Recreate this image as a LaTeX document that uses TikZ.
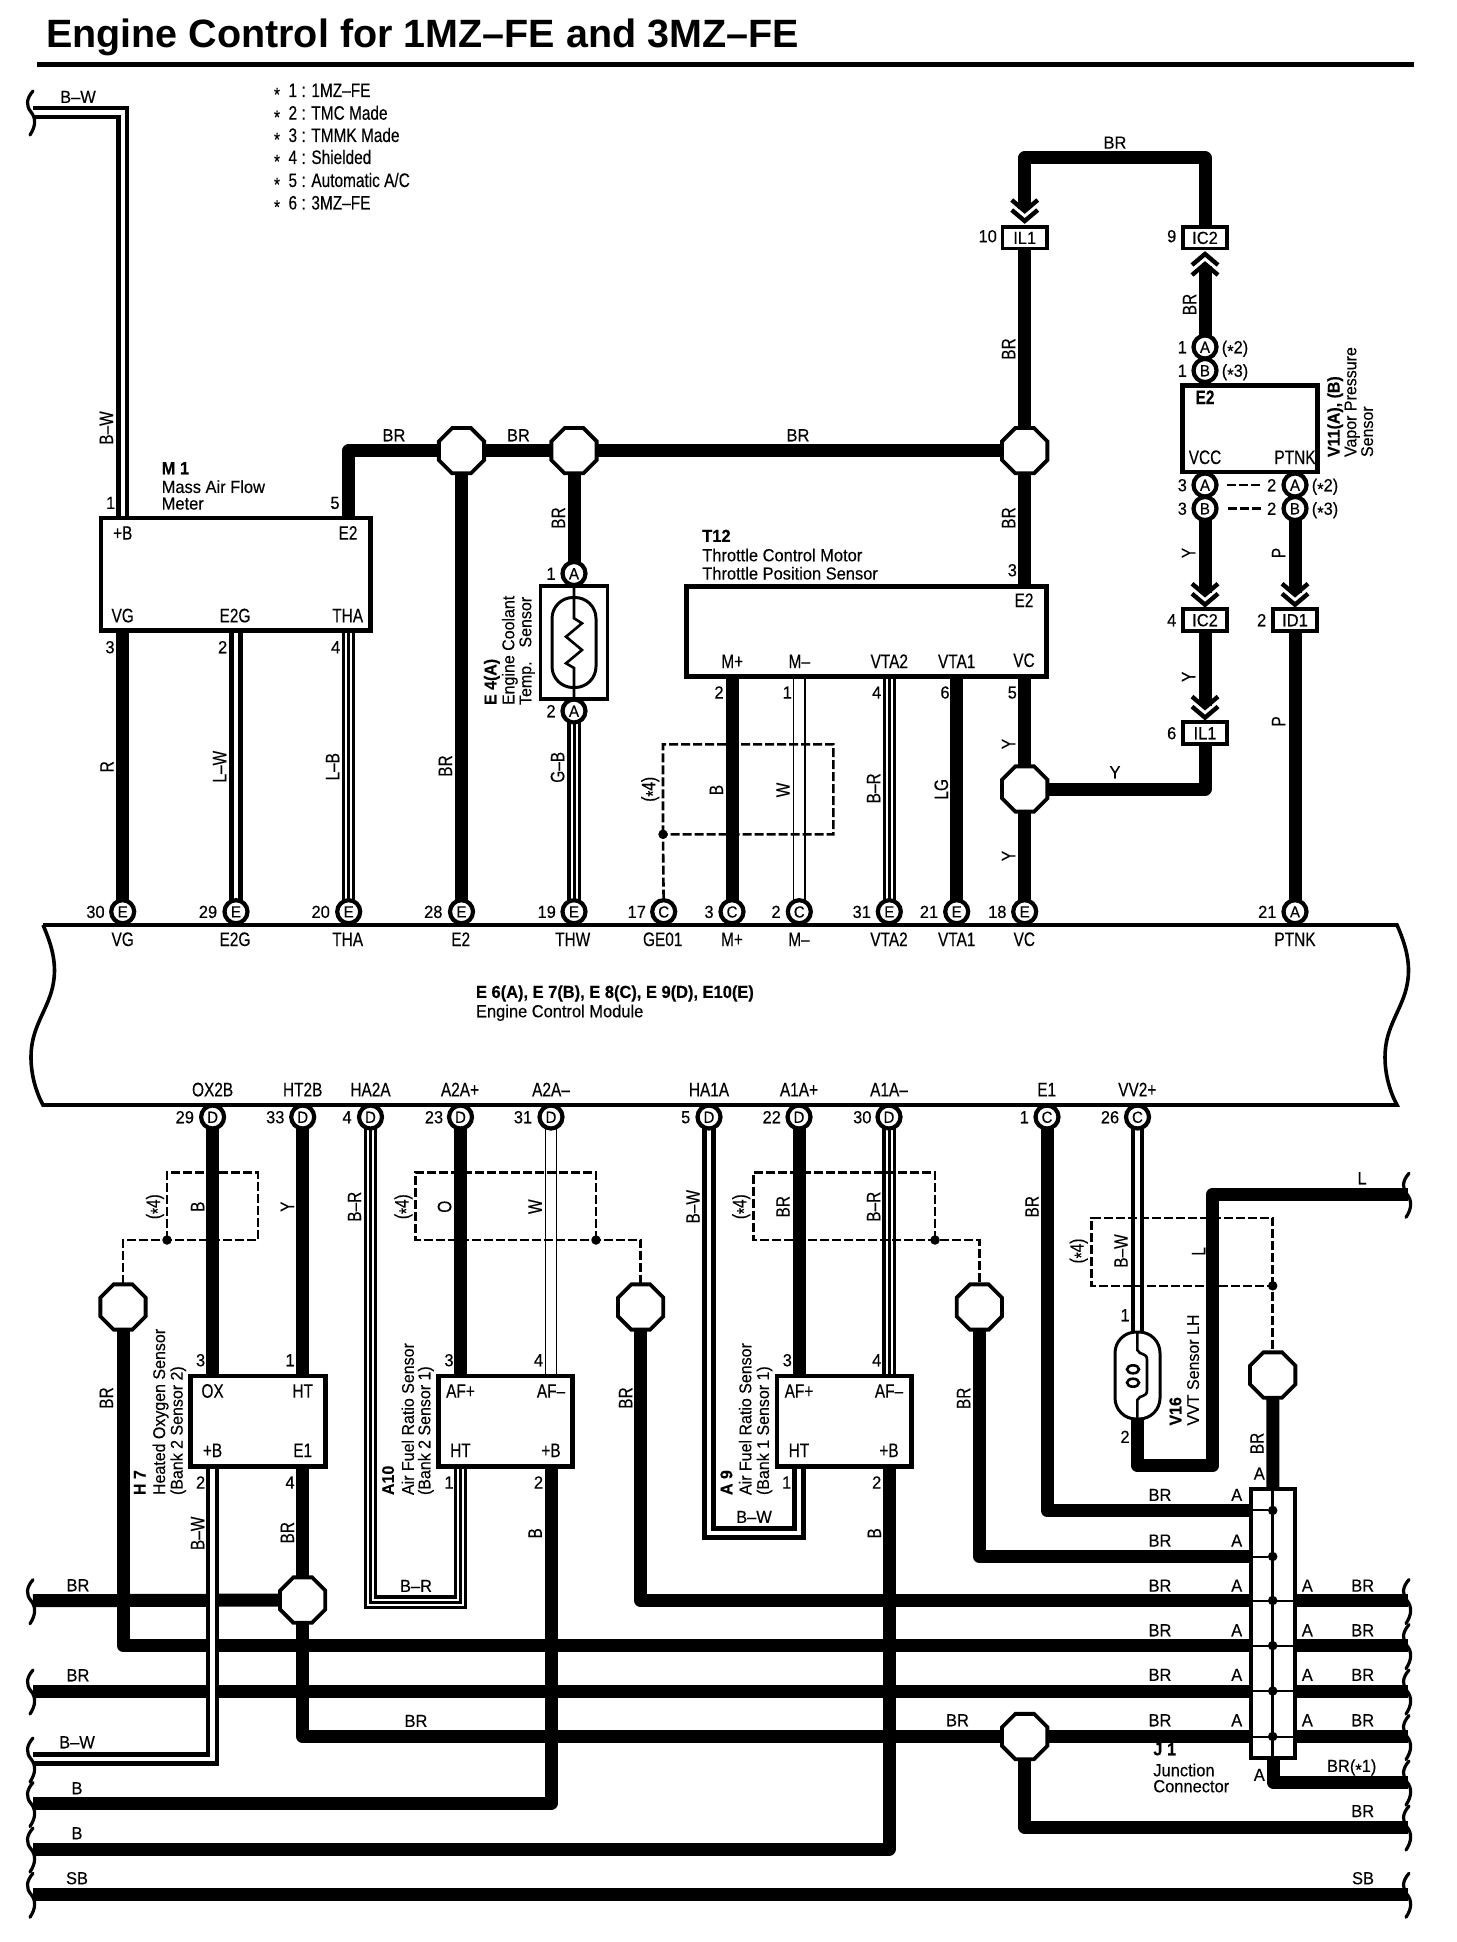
\documentclass[tikz,border=0pt]{standalone}
\usepackage{fontspec}
\setmainfont{Liberation Sans}
\newfontfamily\lfam[FakeStretch=0.94,FakeBold=0.25]{Liberation Sans}
\newfontfamily\pfam[FakeStretch=0.79,FakeBold=0.25]{Liberation Sans}
\newcommand\lf{\lfam\fontsize{17.5}{20}\selectfont}
\newcommand\pf{\pfam\fontsize{19.5}{22}\selectfont}
\newcommand\st{\raisebox{-0.22em}{*}}
\usetikzlibrary{shapes.geometric,backgrounds}
\newcounter{lbl}
\tikzset{
  every node/.style={inner sep=0pt,outer sep=0pt},
  wire/.style={line width=13pt,line join=round},
  dbl/.style={line width=13.5pt,line join=miter,postaction={draw=white,line width=4.4pt}},
  tri/.style={line width=13.5pt,line join=miter,postaction={draw=white,line width=7pt},postaction={draw=black,line width=3pt}},
  wht/.style={line width=12.5pt,postaction={draw=white,line width=10pt}},
  shld/.style={line width=2.6pt,dash pattern=on 9pt off 3pt},
  ecm/.style={line width=3.6pt},
  bigbox/.style={draw,line width=4.5pt,fill=white,rectangle},
  pill/.style={draw,line width=3pt,fill=white,rectangle,rounded corners=21pt},
  lead/.style={line width=2.6pt},
  term/.style={draw,circle,line width=4.2pt,fill=white,minimum size=23pt,font=\lfam\fontsize{16}{18}\selectfont,text height=11.5pt,text depth=0pt},
  splice/.style={draw,regular polygon,regular polygon sides=8,line width=3.8pt,fill=white,minimum size=49pt},
  conn/.style={draw,rectangle,line width=3.6pt,fill=white,minimum width=44.5pt,minimum height=21.5pt,font=\lf,text height=12.5pt,text depth=0pt},
  jdot/.style={circle,fill=black,minimum size=9.5pt},
  hlab/.style={font=\lf,text height=12.5pt,text depth=0pt},
  hpin/.style={font=\pf,text height=14pt,text depth=0pt},
  vlab/.style={font=\pf,rotate=90,text height=14pt,text depth=0pt},
  vsen/.style={font=\lfam\fontsize{17}{20}\selectfont,rotate=90,anchor=west,text height=12.5pt,text depth=0pt},
  brkline/.style={line width=3.2pt,line cap=round}
}
\newcommand\hl[3]{\stepcounter{lbl}\node[hlab] (n\thelbl) at (#1,#2) {#3};}
\newcommand\hp[3]{\stepcounter{lbl}\node[hpin] (n\thelbl) at (#1,#2) {#3};}
\newcommand\vl[3]{\stepcounter{lbl}\node[vlab] (n\thelbl) at (#1,#2) {#3};}
\newcommand\hw[3]{\stepcounter{lbl}\node[hlab,anchor=west] (n\thelbl) at (#1,#2) {#3};}
\newcommand\hg[3]{\stepcounter{lbl}\node[hpin,anchor=west] (n\thelbl) at (#1,#2) {#3};}
\newcommand\vs[3]{\stepcounter{lbl}\node[vsen] (n\thelbl) at (#1,#2) {#3};}
\newcommand\tm[4]{\node[term] (#1) at (#2,#3) {#4};}
\newcommand\brk[2]{\begin{scope}[shift={(#1,#2)}]\draw[brkline] (2,-21) .. controls (-5,-13) and (-5,-6) .. (0,0) .. controls (5,6) and (5,14) .. (-1,23);\end{scope}}
\newcommand\chev[3]{\begin{scope}[shift={(#1,#2)},yscale=#3]\draw[line width=4.4pt] (-13,-23) -- (0,-12) -- (13,-23);\draw[line width=4.4pt] (-13,-13) -- (0,-2) -- (13,-13);\end{scope}}
\begin{document}
\begin{tikzpicture}[x=1pt,y=-1pt]
\useasboundingbox (0,0) rectangle (1456,1942);

% title
\node[anchor=base west,font=\fontsize{39.5}{44}\selectfont\bfseries] (title) at (46,48) {Engine Control for 1MZ–FE and 3MZ–FE};
\draw[line width=5pt] (37,64.7) -- (1414,64.7);

% legend
\hg{274}{90}{\st\ \ 1 : 1MZ–FE}
\hg{274}{112.7}{\st\ \ 2 : TMC Made}
\hg{274}{135}{\st\ \ 3 : TMMK Made}
\hg{274}{157}{\st\ \ 4 : Shielded}
\hg{274}{180}{\st\ \ 5 : Automatic A/C}
\hg{274}{202.5}{\st\ \ 6 : 3MZ–FE}

% boxes
\node[bigbox,minimum width=269.7pt,minimum height=112.5pt] (m1) at (235.85,574.25) {};
\node[bigbox,line width=3.6pt,minimum width=67pt,minimum height=113pt] (e4) at (574,642.5) {};
\node[pill,minimum width=44pt,minimum height=90pt] (e4p) at (574,642.5) {};
\node[bigbox,line width=5pt,minimum width=359.8pt,minimum height=90.5pt] (t12) at (866.6,631.25) {};
\node[bigbox,minimum width=134.6pt,minimum height=86.5pt] (v11) at (1250,428.75) {};
\node[bigbox,minimum width=134.8pt,minimum height=90.3pt] (h7) at (257.9,1421.15) {};
\node[bigbox,minimum width=134.3pt,minimum height=90.3pt] (a10) at (505.55,1421.15) {};
\node[bigbox,minimum width=134.3pt,minimum height=90.3pt] (a9) at (844.15,1421.15) {};
\node[bigbox,line width=4pt,minimum width=43.4pt,minimum height=268.5pt] (j1) at (1273,1623.25) {};
\node[pill,minimum width=45pt,minimum height=87pt] (v16) at (1137.5,1375.5) {};

% thermistor in E4
\draw[lead] (574,584) -- (574,618.3) -- (582,623.3) -- (566,636.7) -- (582,650) -- (566,663.3) -- (574,668) -- (574,701);
% coil in V16
\draw[lead] (1137.3,1331) -- (1137.3,1350) .. controls (1140,1356) and (1147,1352) .. (1147,1360) -- (1147,1390) .. controls (1147,1398) and (1140,1394) .. (1137.3,1400) -- (1137.3,1420);
\draw[lead] (1133,1369.3) ellipse (6pt and 4pt);
\draw[lead] (1133,1382.7) ellipse (6pt and 4pt);

% junction dots
\node[jdot] (d1) at (1272.7,1510.4) {};
\node[jdot] (d2) at (1272.7,1556.5) {};
\node[jdot] (d3) at (1272.7,1600.5) {};
\node[jdot] (d4) at (1272.7,1645.6) {};
\node[jdot] (d5) at (1272.7,1691) {};
\node[jdot] (d6) at (1272.7,1736.5) {};
\draw[line width=3pt] (j1.north -| d1) -- (j1.south -| d1);
\foreach \d in {d1,d2}{\draw[line width=2pt] (j1.west |- \d) -- (\d);}
\foreach \d in {d3,d4,d5,d6}{\draw[line width=2pt] (j1.west |- \d) -- (j1.east |- \d);}

% ECM terminals, upper
\tm{t30}{122.7}{911.7}{E}
\tm{t29}{236}{911.7}{E}
\tm{t20}{348.7}{911.7}{E}
\tm{t28}{461.5}{911.7}{E}
\tm{t19}{574}{911.7}{E}
\tm{t17}{663.7}{911.7}{C}
\tm{t3c}{732}{911.7}{C}
\tm{t2c}{799.3}{911.7}{C}
\tm{t31}{889.3}{911.7}{E}
\tm{t21}{956.7}{911.7}{E}
\tm{t18}{1024.7}{911.7}{E}
\tm{t21a}{1295}{911.7}{A}
% ECM terminals, lower
\tm{b29}{212.6}{1117}{D}
\tm{b33}{302.7}{1117}{D}
\tm{b4}{370.5}{1117}{D}
\tm{b23}{460.5}{1117}{D}
\tm{b31}{551}{1117}{D}
\tm{b5}{709}{1117}{D}
\tm{b22}{799}{1117}{D}
\tm{b30}{889}{1117}{D}
\tm{b1}{1047}{1117}{C}
\tm{b26}{1137.5}{1117}{C}
% E4 terminals
\tm{e41}{574}{573.5}{A}
\tm{e42}{574}{711}{A}
% V11 terminals
\tm{va1}{1205}{347}{A}
\tm{vb1}{1205}{370.5}{B}
\tm{va3}{1205}{485}{A}
\tm{vb3}{1205}{508.5}{B}
\tm{va2}{1295}{485}{A}
\tm{vb2}{1295}{508.5}{B}

% splices
\node[splice] (o1) at (461.5,450.7) {};
\node[splice] (o2) at (574,450.7) {};
\node[splice] (o3) at (1024.7,450.7) {};
\node[splice] (o4) at (1024.7,789) {};
\node[splice] (oh) at (123,1307) {};
\node[splice] (oa) at (640.7,1307) {};
\node[splice] (oc) at (979.3,1307) {};
\node[splice] (ov) at (1272.7,1375) {};
\node[splice] (sp) at (302.7,1600) {};
\node[splice] (ob) at (1024.7,1736.5) {};

% connector blocks
\node[conn] (il1a) at (1024.7,237.7) {IL1};
\node[conn] (ic2a) at (1205,237.7) {IC2};
\node[conn] (ic2b) at (1205,620) {IC2};
\node[conn] (id1) at (1295,620) {ID1};
\node[conn] (il1b) at (1205,733) {IL1};

% free ends
\coordinate (lBW) at (33,112.5);
\coordinate (lBR1) at (33,1600.7);
\coordinate (lBR2) at (33,1691);
\coordinate (lBW2) at (33,1759);
\coordinate (lB1) at (33,1803.5);
\coordinate (lB2) at (33,1849);
\coordinate (lSB) at (33,1894.3);
\coordinate (rL) at (1408,1194.3);
\coordinate (rA) at (1408,1600.5);
\coordinate (rB) at (1408,1645.6);
\coordinate (rC) at (1408,1691);
\coordinate (rD) at (1408,1736.5);
\coordinate (rE) at (1408,1782);
\coordinate (rF) at (1408,1827);
\coordinate (rSB) at (1408,1894.3);
\coordinate (corner) at (1212.7,1465.7);
\coordinate (topc) at (1115,158);
\coordinate (ch1) at (1024.7,209);
\coordinate (ch2) at (1205,266);
\coordinate (ch3) at (1205,592.7);
\coordinate (ch4) at (1295,592.7);
\coordinate (ch5) at (1205,705.6);
\coordinate (bwc) at (754,1533);
\coordinate (brc) at (416,1602);
\coordinate (pm1) at (122.7,518);
\coordinate (pe2) at (348.7,518);
\coordinate (pEG) at (236,630);
\coordinate (pTH) at (348.7,630);
\coordinate (pVG) at (122.7,630);
\coordinate (pMp) at (732,676);
\coordinate (pMm) at (799.3,676);
\coordinate (pV2) at (889.3,676);
\coordinate (pV1) at (956.7,676);
\coordinate (pOX) at (212.6,1376);
\coordinate (pHT) at (302.7,1376);
\coordinate (pHs) at (212.6,1466);
\coordinate (pE1) at (302.7,1466);
\coordinate (pAp) at (460.5,1376);
\coordinate (pAm) at (551,1376);
\coordinate (pAh) at (460.5,1466);
\coordinate (pAb) at (551,1466);
\coordinate (qAp) at (799,1376);
\coordinate (qAm) at (889,1376);
\coordinate (qAh) at (799,1466);
\coordinate (qAb) at (889,1466);

\begin{scope}[on background layer]
\fill[white] (0,0) rectangle (1456,1942);
% module outline
\draw[ecm] (43,925) -- (1397,925) .. controls (1408,950) and (1412,970) .. (1405,993) .. controls (1398,1015) and (1385,1030) .. (1385,1057) .. controls (1385,1075) and (1390,1092) .. (1397,1105) -- (43,1105) .. controls (36,1092) and (31,1075) .. (31,1057) .. controls (31,1030) and (44,1015) .. (51,993) .. controls (58,970) and (54,950) .. (43,925);
% upper wires
\draw[wire] (pVG) -- (t30.center);
\draw[dbl] (pEG) -- (t29.center);
\draw[tri] (pTH) -- (t20.center);
\draw[wire] (pe2) |- (o1.center) -- (o2.center) -- (o3.center);
\draw[wire] (o1.center) -- (t28.center);
\draw[wire] (o2.center) -- (e41.center);
\draw[tri] (e42.center) -- (t19.center);
\draw[wire] (o3.center) -- (il1a.center);
\draw[wire] (ch1) |- (topc) -| (ic2a.center);
\draw[wire] (o3.center) -- (o4.center) -- (t18.center);
\draw[wire] (o4.center) -| (il1b.center);
\draw[wire] (ch5) -- (ic2b.center);
\draw[wire] (vb3.center) -- (ch3);
\draw[wire] (vb2.center) -- (ch4);
\draw[wire] (id1.center) -- (t21a.center);
\draw[wire] (va1.center) -- (ch2);
\draw[wire] (pMp) -- (t3c.center);
\draw[wht] (pMm) -- (t2c.center);
\draw[tri] (pV2) -- (t31.center);
\draw[wire] (pV1) -- (t21.center);
% horizontal rows
\draw[wire] (lBR1) -- (sp.center);
\draw[wire] (oa.center) |- (d3.center);
\draw[wire] (d3.center) -- (rA);
\draw[wire] (oh.center) |- (d4.center);
\draw[wire] (d4.center) -- (rB);
\draw[wire] (lBR2) -- (rC);
\draw[wire] (sp.center) |- (ob.center);
\draw[wire] (ob.center) -- (d6.center) -- (rD);
\draw[wire] (ob.center) |- (rF);
\draw[wire] (lB1) -| (pAb);
\draw[wire] (lB2) -| (qAb);
\draw[wire] (lSB) -- (rSB);
\draw[wire] (b1.center) |- (d1.center);
\draw[wire] (oc.center) |- (d2.center);
\draw[wire] (ov.center) -- (j1.center);
\draw[wire] (j1.south) |- (rE);
\draw[wire] (rL) -| (corner) -| (v16.center);
% lower verticals
\draw[wire] (b29.center) -- (pOX);
\draw[wire] (b33.center) -- (pHT);
\draw[wire] (pE1) -- (sp.center);
\draw[tri] (b4.center) |- (brc) -| (pAh);
\draw[wire] (b23.center) -- (pAp);
\draw[wht] (b31.center) -- (pAm);
\draw[dbl] (b5.center) |- (bwc) -| (qAh);
\draw[wire] (b22.center) -- (qAp);
\draw[tri] (b30.center) -- (qAm);
\draw[dbl] (b26.center) -- (v16.center);
\draw[dbl] (pHs) |- (lBW2);
\draw[dbl] (lBW) -| (pm1);
% shields
\node[jdot] (s1) at (663,834.3) {};
\draw[shld] (s1.center) -- (663,744.3) -- (833.3,744.3) -- (833.3,834.3) -- (s1.center) -- (t17.center);
\node[jdot] (s2) at (167,1240) {};
\draw[shld] (s2.center) -- (167,1172.3) -- (258,1172.3) -- (258,1240) -- (s2.center) -| (oh.center);
\node[jdot] (s3) at (596,1240) {};
\draw[shld] (s3.center) -- (596,1172.3) -- (415.5,1172.3) -- (415.5,1240) -- (s3.center) -| (oa.center);
\node[jdot] (s4) at (935,1240) {};
\draw[shld] (s4.center) -- (935,1172.3) -- (753.3,1172.3) -- (753.3,1240) -- (s4.center) -| (oc.center);
\node[jdot] (s5) at (1272.7,1285.8) {};
\draw[shld] (s5.center) -- (1272.7,1218) -- (1091.7,1218) -- (1091.7,1285.8) -- (s5.center) -- (ov.center);
% dashes between V11 pins
\draw[line width=2.6pt,dash pattern=on 9pt off 3pt] (va3.center) ++(21.7,0) -- ++(33.3,0);
\draw[line width=2.6pt,dash pattern=on 9pt off 3pt] (vb3.center) ++(23.4,0) -- ++(33.3,0);
\end{scope}

% arrow chevrons
\chev{1024.7}{223}{1}
\chev{1205}{252}{-1}
\chev{1205}{606.7}{1}
\chev{1295}{606.7}{1}
\chev{1205}{719.6}{1}

% breaks
\brk{31}{112}
\brk{31}{1600.7}
\brk{31}{1691}
\brk{31}{1759}
\brk{31}{1803.5}
\brk{31}{1849}
\brk{31}{1894.3}
\brk{1407}{1194.3}
\brk{1407}{1600.5}
\brk{1407}{1645.6}
\brk{1407}{1691}
\brk{1407}{1736.5}
\brk{1407}{1782}
\brk{1407}{1827}
\brk{1407}{1894.3}

% M1
\hl{78}{96.7}{B–W}
\vl{106}{428}{B–W}
\hl{394}{435}{BR}
\hl{518.4}{435}{BR}
\hl{798}{435}{BR}
\hw{161.7}{468}{\bfseries M 1}
\hw{161.7}{486.7}{Mass Air Flow}
\hw{161.7}{503.3}{Meter}
\hl{110.7}{502.7}{1}
\hl{335}{502.7}{5}
\hp{122.7}{532.7}{+B}
\hp{348}{532.7}{E2}
\hp{122.7}{615.3}{VG}
\hp{235}{615.3}{E2G}
\hp{347.7}{615.3}{THA}
\hl{110}{647}{3}
\hl{222.7}{647}{2}
\hl{335.7}{647}{4}
\vl{106.7}{766.7}{R}
\vl{219.3}{766.7}{L–W}
\vl{332.3}{766.7}{L–B}
\vl{445}{766}{BR}
% E4
\vl{558}{518}{BR}
\hl{551}{573.5}{1}
\hl{551}{711}{2}
\vs{490}{705}{\bfseries E 4(A)}
\vs{508}{705}{Engine Coolant}
\vs{525}{705}{Temp.\hspace{14pt}Sensor}
\vl{557.3}{767.3}{G–B}
% T12
\hw{702.3}{535.7}{\bfseries T12}
\hw{702.3}{555}{Throttle Control Motor}
\hw{702.3}{573.3}{Throttle Position Sensor}
\hp{1024}{600}{E2}
\hp{732.3}{661}{M+}
\hp{799.3}{661}{M–}
\hp{889.3}{661}{VTA2}
\hp{956.7}{661}{VTA1}
\hp{1024}{660}{VC}
\hl{719}{692.3}{2}
\hl{787.3}{692.3}{1}
\hl{876.7}{692.3}{4}
\hl{945}{692.3}{6}
\hl{1012.3}{570}{3}
\hl{1012.3}{692.3}{5}
\vl{648.3}{789.3}{(\st4)}
\vl{716}{790}{B}
\vl{782.7}{790}{W}
\vl{873.3}{788.3}{B–R}
\vl{941}{789.3}{LG}
\vl{1008.3}{349}{BR}
\vl{1008.3}{518}{BR}
\vl{1008.3}{744}{Y}
\vl{1008.3}{856}{Y}
% V11 side
\hl{1115}{142.4}{BR}
\hl{987.7}{236}{10}
\hl{1171.7}{236}{9}
\vl{1189.3}{304.5}{BR}
\hl{1182.3}{347}{1}
\hl{1182.3}{370.5}{1}
\hl{1235}{347}{(\st2)}
\hl{1235}{370.5}{(\st3)}
\hp{1205}{397}{\bfseries E2}
\hp{1205}{457}{VCC}
\hp{1295}{457}{PTNK}
\vs{1333.3}{457}{\bfseries V11(A), (B)}
\vs{1350}{457}{Vapor Pressure}
\vs{1366.7}{457}{Sensor}
\hl{1182.3}{485}{3}
\hl{1182.3}{508.5}{3}
\hl{1271.7}{485}{2}
\hl{1271.7}{508.5}{2}
\hl{1325}{485}{(\st2)}
\hl{1325}{508.5}{(\st3)}
\vl{1188.3}{553}{Y}
\vl{1278.3}{553}{P}
\hl{1171.7}{620}{4}
\hl{1261.7}{620}{2}
\vl{1188.3}{676.8}{Y}
\hl{1171.7}{733}{6}
\vl{1278.3}{721.4}{P}
\hl{1115}{772}{Y}
% ECM pin numbers, upper
\hl{95.5}{911.7}{30}
\hl{208}{911.7}{29}
\hl{320.7}{911.7}{20}
\hl{433.3}{911.7}{28}
\hl{546.7}{911.7}{19}
\hl{636.7}{911.7}{17}
\hl{709}{911.7}{3}
\hl{776}{911.7}{2}
\hl{861.7}{911.7}{31}
\hl{929}{911.7}{21}
\hl{997.3}{911.7}{18}
\hl{1267.3}{911.7}{21}
\hp{122.7}{939}{VG}
\hp{235}{939}{E2G}
\hp{347.7}{939}{THA}
\hp{460.7}{939}{E2}
\hp{572.7}{939}{THW}
\hp{662.7}{939}{GE01}
\hp{732}{939}{M+}
\hp{799}{939}{M–}
\hp{889}{939}{VTA2}
\hp{956.7}{939}{VTA1}
\hp{1024.3}{939}{VC}
\hp{1295}{939}{PTNK}
\hw{476}{991.7}{\bfseries E 6(A), E 7(B), E 8(C), E 9(D), E10(E)}
\hw{476}{1011}{Engine Control Module}
% ECM pin labels, lower
\hp{212.6}{1089.3}{OX2B}
\hp{302.7}{1089.3}{HT2B}
\hp{370.5}{1089.3}{HA2A}
\hp{460}{1089.3}{A2A+}
\hp{551}{1089.3}{A2A–}
\hp{709}{1089.3}{HA1A}
\hp{799}{1089.3}{A1A+}
\hp{889}{1089.3}{A1A–}
\hp{1046.7}{1089.3}{E1}
\hp{1137.3}{1089.3}{VV2+}
\hl{184.8}{1117}{29}
\hl{275.3}{1117}{33}
\hl{347}{1117}{4}
\hl{434}{1117}{23}
\hl{523}{1117}{31}
\hl{685.7}{1117}{5}
\hl{771.7}{1117}{22}
\hl{862.3}{1117}{30}
\hl{1024.3}{1117}{1}
\hl{1110}{1117}{26}
% lower wire labels
\vl{153}{1206.7}{(\st4)}
\vl{197.3}{1206.7}{B}
\vl{287}{1206.7}{Y}
\vl{354.2}{1206.7}{B–R}
\vl{401.6}{1206.7}{(\st4)}
\vl{444.3}{1206.7}{O}
\vl{534.8}{1206.7}{W}
\vl{692.7}{1206.7}{B–W}
\vl{739.3}{1206.7}{(\st4)}
\vl{782.7}{1206.7}{BR}
\vl{873.3}{1206.7}{B–R}
\vl{1031.7}{1206.7}{BR}
\vl{1076.7}{1251}{(\st4)}
\vl{1120.7}{1251}{B–W}
\vl{1198.3}{1251.4}{L}
\hl{1362}{1178}{L}
\vl{106}{1398}{BR}
\vl{625.4}{1398}{BR}
\vl{963.3}{1398.3}{BR}
% H7
\hl{200.6}{1360}{3}
\hl{290}{1360}{1}
\hp{212.6}{1390.7}{OX}
\hp{302.7}{1390.7}{HT}
\hp{212.6}{1450}{+B}
\hp{302.7}{1450}{E1}
\hl{200.6}{1482.3}{2}
\hl{290}{1482.3}{4}
\vs{139.3}{1495}{\bfseries H 7}
\vs{158.8}{1495}{Heated Oxygen Sensor}
\vs{176.4}{1495}{(Bank 2 Sensor 2)}
\vl{197.3}{1533.3}{B–W}
\vl{287}{1532.7}{BR}
% A10
\hl{449}{1360}{3}
\hl{538.5}{1360}{4}
\hp{460.5}{1390.7}{AF+}
\hp{551}{1390.7}{AF–}
\hp{460.5}{1450}{HT}
\hp{551}{1450}{+B}
\hl{449}{1482.3}{1}
\hl{538.5}{1482.3}{2}
\vs{387.7}{1495}{\bfseries A10}
\vs{407.6}{1495}{Air Fuel Ratio Sensor}
\vs{424}{1495}{(Bank 2 Sensor 1)}
\vl{534.8}{1533.3}{B}
% A9
\hl{787.3}{1360}{3}
\hl{876.7}{1360}{4}
\hp{799}{1390.7}{AF+}
\hp{889}{1390.7}{AF–}
\hp{799}{1450}{HT}
\hp{889}{1450}{+B}
\hl{786.7}{1482.3}{1}
\hl{876.7}{1482.3}{2}
\vs{726}{1495}{\bfseries A 9}
\vs{745}{1495}{Air Fuel Ratio Sensor}
\vs{762.7}{1495}{(Bank 1 Sensor 1)}
\vl{874}{1533.3}{B}
\hl{754}{1516.7}{B–W}
% V16
\hl{1125}{1315}{1}
\hl{1125}{1436.7}{2}
\vs{1175}{1425.5}{\bfseries V16}
\vs{1192.7}{1425.5}{VVT Sensor LH}
\vl{1256.7}{1443.4}{BR}
\hl{1259.3}{1473.3}{A}
% J1 rows, left
\hl{1160}{1494.7}{BR}\hl{1236.7}{1494.7}{A}
\hl{1160}{1540.3}{BR}\hl{1236.7}{1540.3}{A}
\hl{1160}{1585.4}{BR}\hl{1236.7}{1585.4}{A}
\hl{1160}{1630}{BR}\hl{1236.7}{1630}{A}
\hl{1160}{1674.6}{BR}\hl{1236.7}{1674.6}{A}
\hl{1160}{1720}{BR}\hl{1236.7}{1720}{A}
% J1 rows, right
\hl{1307.3}{1585.4}{A}\hl{1362.7}{1585.4}{BR}
\hl{1307.3}{1630}{A}\hl{1362.7}{1630}{BR}
\hl{1307.3}{1674.6}{A}\hl{1362.7}{1674.6}{BR}
\hl{1307.3}{1720}{A}\hl{1362.7}{1720}{BR}
\hw{1153.3}{1749}{\bfseries J 1}
\hw{1153.3}{1770}{Junction}
\hw{1153.3}{1786}{Connector}
\hl{1259.3}{1774.6}{A}
\hl{1351.7}{1765.7}{BR(\st1)}
\hl{1362.7}{1810.8}{BR}
\hl{1363}{1878}{SB}
% left ends
\hl{78}{1585}{BR}
\hl{78}{1675}{BR}
\hl{77}{1742}{B–W}
\hl{77}{1788}{B}
\hl{77}{1833}{B}
\hl{77}{1878}{SB}
\hl{416}{1585.7}{B–R}
\hl{416}{1720.7}{BR}
\hl{957.5}{1720}{BR}
\end{tikzpicture}
\end{document}
